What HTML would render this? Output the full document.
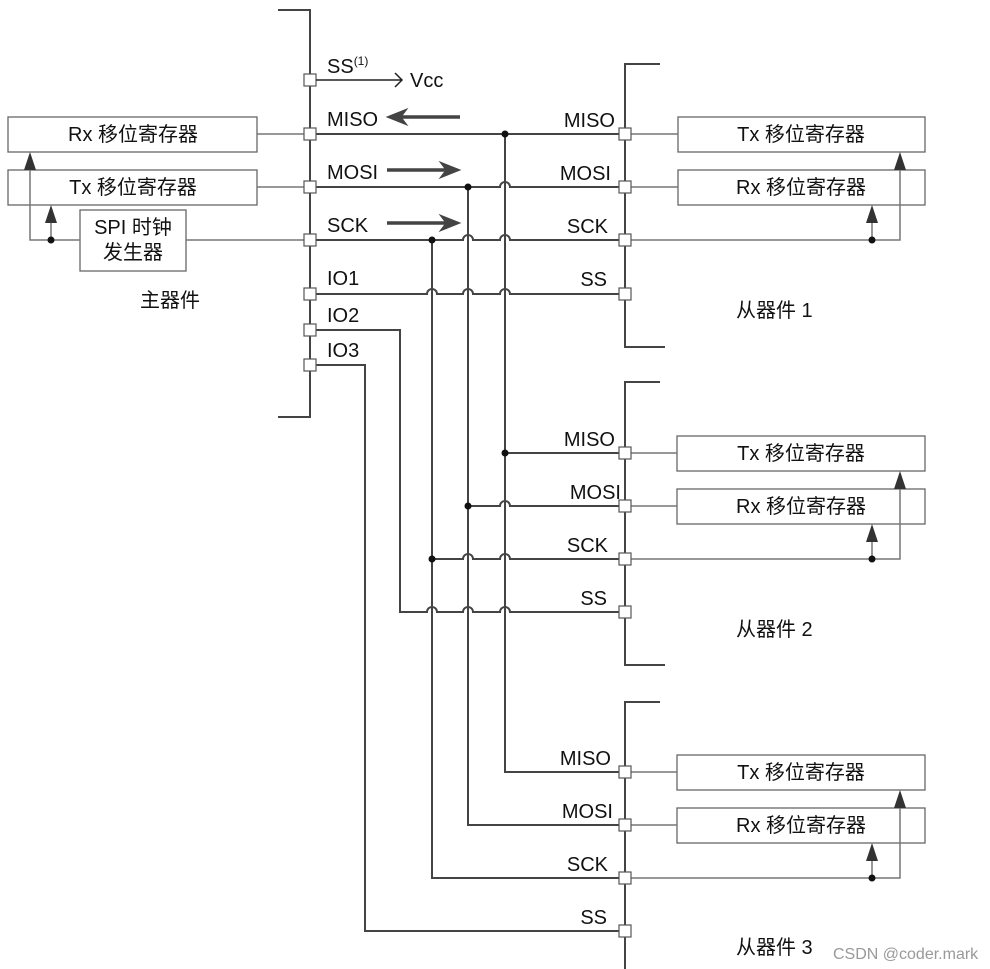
<!DOCTYPE html>
<html><head><meta charset="utf-8"><style>
body{margin:0;background:#fff}
svg{display:block}
text{font-family:"Liberation Sans","Noto Sans CJK SC",sans-serif;fill:#111}
</style></head><body>
<svg width="990" height="969" viewBox="0 0 990 969" xmlns="http://www.w3.org/2000/svg">
<g stroke="#444" stroke-width="2" fill="none">
<path d="M278,10 H310 V417 H278"/>
<path d="M660,64 H625 V347 H665"/>
<path d="M660,382 H625 V665 H665"/>
<path d="M660,702 H625 V969"/>
<path d="M505,134 V772 H625"/>
<path d="M468,187 V825 H625"/>
<path d="M432,240 V878 H625"/>
<path d="M310,134 H625"/>
<path d="M310,187 H500 a5,5 0 0 1 10,0 H625"/>
<path d="M310,240 H463 a5,5 0 0 1 10,0 H500 a5,5 0 0 1 10,0 H625"/>
<path d="M310,294 H427 a5,5 0 0 1 10,0 H463 a5,5 0 0 1 10,0 H500 a5,5 0 0 1 10,0 H625"/>
<path d="M505,453 H625"/>
<path d="M468,506 H500 a5,5 0 0 1 10,0 H625"/>
<path d="M432,559 H463 a5,5 0 0 1 10,0 H500 a5,5 0 0 1 10,0 H625"/>
<path d="M310,330 H400 V612 H427 a5,5 0 0 1 10,0 H463 a5,5 0 0 1 10,0 H500 a5,5 0 0 1 10,0 H625"/>
<path d="M310,365 H365 V931 H625"/>
</g>
<g fill="none" stroke="#666" stroke-width="1.3">
<rect x="8" y="117" width="249" height="35"/><rect x="8" y="170" width="249" height="35"/>
<rect x="80" y="210" width="106" height="61"/>
<rect x="678" y="117" width="247" height="35"/><rect x="678" y="170" width="247" height="35"/>
<rect x="677" y="436" width="248" height="35"/><rect x="677" y="489" width="248" height="35"/>
<rect x="677" y="755" width="248" height="35"/><rect x="677" y="808" width="248" height="35"/>
</g>
<g stroke="#777" stroke-width="1.5" fill="none">
<path d="M257,134 H310 M257,187 H310 M186,240 H310"/>
<path d="M80,240 H30 V160"/>
<path d="M51,240 V212"/>
<path d="M625,134 H678 M625,187 H678 M625,240 H900 V160 M872,240 V212"/>
<path d="M625,453 H677 M625,506 H677 M625,559 H900 V479 M872,559 V531"/>
<path d="M625,772 H677 M625,825 H677 M625,878 H900 V798 M872,878 V850"/>
</g>
<g fill="#333">
<path d="M24,170 L30,152 L36,170Z"/><path d="M45,223 L51,205 L57,223Z"/>
<path d="M894,170 L900,152 L906,170Z"/><path d="M866,223 L872,205 L878,223Z"/>
<path d="M894,489 L900,471 L906,489Z"/><path d="M866,542 L872,524 L878,542Z"/>
<path d="M894,808 L900,790 L906,808Z"/><path d="M866,861 L872,843 L878,861Z"/>
</g>
<g fill="#111">
<circle cx="505" cy="134" r="3.5"/><circle cx="468" cy="187" r="3.5"/><circle cx="432" cy="240" r="3.5"/>
<circle cx="505" cy="453" r="3.5"/><circle cx="468" cy="506" r="3.5"/><circle cx="432" cy="559" r="3.5"/>
<circle cx="51" cy="240" r="3.5"/><circle cx="872" cy="240" r="3.5"/><circle cx="872" cy="559" r="3.5"/><circle cx="872" cy="878" r="3.5"/>
</g>
<g fill="#fff" stroke="#555" stroke-width="1.2">
<rect x="304" y="74" width="12" height="12"/><rect x="304" y="128" width="12" height="12"/><rect x="304" y="181" width="12" height="12"/><rect x="304" y="234" width="12" height="12"/><rect x="304" y="288" width="12" height="12"/><rect x="304" y="324" width="12" height="12"/><rect x="304" y="359" width="12" height="12"/>
<rect x="619" y="128" width="12" height="12"/><rect x="619" y="181" width="12" height="12"/><rect x="619" y="234" width="12" height="12"/><rect x="619" y="288" width="12" height="12"/>
<rect x="619" y="447" width="12" height="12"/><rect x="619" y="500" width="12" height="12"/><rect x="619" y="553" width="12" height="12"/><rect x="619" y="606" width="12" height="12"/>
<rect x="619" y="766" width="12" height="12"/><rect x="619" y="819" width="12" height="12"/><rect x="619" y="872" width="12" height="12"/><rect x="619" y="925" width="12" height="12"/>
</g>
<path d="M316,80 H402 M395,73 L402,80 L395,87" stroke="#222" stroke-width="1.5" fill="none"/>
<g stroke="#444" stroke-width="3.5" fill="#444">
<path d="M400,117 H460" /><path d="M387,117 L407,109 L401,117 L407,125Z" stroke-width="1"/>
<path d="M387,170 H447"/><path d="M460,170 L440,162 L446,170 L440,178Z" stroke-width="1"/>
<path d="M387,223 H447"/><path d="M460,223 L440,215 L446,223 L440,231Z" stroke-width="1"/>
</g>
<g font-size="20">
<text x="327" y="73">SS<tspan font-size="12" dy="-8">(1)</tspan></text>
<text x="410" y="87">Vcc</text>
<text x="327" y="126">MISO</text><text x="327" y="179">MOSI</text><text x="327" y="232">SCK</text>
<text x="327" y="285">IO1</text><text x="327" y="322">IO2</text><text x="327" y="357">IO3</text>
<g text-anchor="end">
<text x="615" y="127">MISO</text><text x="611" y="180">MOSI</text><text x="608" y="233">SCK</text><text x="607" y="286">SS</text>
<text x="615" y="446">MISO</text><text x="621" y="499">MOSI</text><text x="608" y="552">SCK</text><text x="607" y="605">SS</text>
<text x="611" y="765">MISO</text><text x="613" y="818">MOSI</text><text x="608" y="871">SCK</text><text x="607" y="924">SS</text>
</g>
<g text-anchor="middle">
<text x="133" y="141">Rx 移位寄存器</text><text x="133" y="194">Tx 移位寄存器</text>
<text x="133" y="234">SPI 时钟</text><text x="133" y="259">发生器</text>
<text x="801" y="141">Tx 移位寄存器</text><text x="801" y="194">Rx 移位寄存器</text>
<text x="801" y="460">Tx 移位寄存器</text><text x="801" y="513">Rx 移位寄存器</text>
<text x="801" y="779">Tx 移位寄存器</text><text x="801" y="832">Rx 移位寄存器</text>
</g>
<text x="140" y="307">主器件</text>
<text x="736" y="317">从器件 1</text>
<text x="736" y="636">从器件 2</text>
<text x="736" y="954">从器件 3</text>
</g>
<text x="833" y="959" font-size="16" style="fill:#999">CSDN @coder.mark</text>
</svg>
</body></html>
